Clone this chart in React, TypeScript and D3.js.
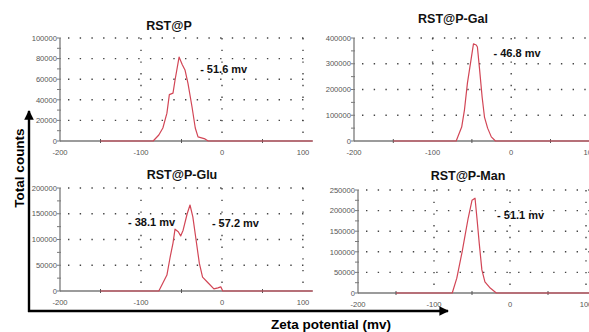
import React from 'react';
import * as d3 from 'd3';

// zeta potential (mV) vs total counts
const galX = [-150, -70, -63, -59.5, -55.7, -50.6, -48, -44.5, -43, -40.5, -37, -34, -30, -25.3, -20, 110];
const galY = [0, 0, 54000, 120000, 225000, 326000, 377000, 373000, 365000, 287000, 171000, 93000, 50000, 16000, 0, 0];

const pX = [-150, -85, -78, -73, -68, -65, -60.5, -58, -53, -49, -45.7, -42, -37, -33, -29.6, -21, -17, 112];
const pY = [0, 0, 5800, 12600, 27000, 45000, 46500, 59000, 81500, 74000, 69000, 56000, 33000, 12600, 4000, 2000, 0, 0];

const gluX = [-150, -78, -73, -68, -64, -60.5, -58, -54, -51, -48, -43, -39.5, -36, -32, -28, -24, -17, -10, -5, -1.5, 1, 112];
const gluY = [0, 0, 15500, 31000, 66000, 93000, 120000, 115000, 107000, 118000, 150000, 167000, 144000, 99000, 54000, 27000, 15500, 4000, 6000, 8000, 0, 0];

const manX = [-150, -76, -70, -63, -59, -55, -50, -46, -43.5, -40.5, -37, -33, -26, -18, 110];
const manY = [0, 0, 36000, 100000, 141000, 182000, 225000, 230000, 182000, 121000, 56000, 27000, 12000, 0, 0];

const xTicks = [-200, -100, 0, 100];
const xMinor = [-150, -50, 50];

interface Label { text: string; x: number; y: number }

interface PanelSpec {
  title: string;
  xs: number[];
  ys: number[];
  yMax: number;
  yStep: number;
  xEnd: number;
  left: number;
  pxPerMv: number;
  top: number;
  bottom: number;
  titleX: number;
  titleY: number;
  labels: Label[];
}

const panels: PanelSpec[] = [
  {
    title: 'RST@P', xs: pX, ys: pY, yMax: 100000, yStep: 20000, xEnd: 112,
    left: 60, pxPerMv: 0.81, top: 38, bottom: 141, titleX: 169, titleY: 29.5,
    labels: [{ text: '- 51.6 mv', x: -27, y: 66000 }],
  },
  {
    title: 'RST@P-Gal', xs: galX, ys: galY, yMax: 400000, yStep: 100000, xEnd: 110,
    left: 354, pxPerMv: 0.786, top: 38, bottom: 141, titleX: 453, titleY: 23,
    labels: [{ text: '- 46.8 mv', x: -22.5, y: 325000 }],
  },
  {
    title: 'RST@P-Glu', xs: gluX, ys: gluY, yMax: 200000, yStep: 50000, xEnd: 112,
    left: 60, pxPerMv: 0.81, top: 188, bottom: 291, titleX: 182, titleY: 179,
    labels: [
      { text: '- 38.1 mv', x: -116, y: 126000 },
      { text: '- 57.2 mv', x: -12.5, y: 124000 },
    ],
  },
  {
    title: 'RST@P-Man', xs: manX, ys: manY, yMax: 250000, yStep: 50000, xEnd: 110,
    left: 358, pxPerMv: 0.76, top: 190, bottom: 293, titleX: 468, titleY: 180,
    labels: [{ text: '- 51.1 mv', x: -17, y: 179000 }],
  },
];

const FONT = 'Arial, "Liberation Sans", sans-serif';
const LINE = '#d24656';
const AXIS = '#7a7a7a';

const Panel: React.FC<{ p: PanelSpec }> = ({ p }) => {
  const x = d3.scaleLinear().domain([-200, p.xEnd]).range([p.left, p.left + (p.xEnd + 200) * p.pxPerMv]);
  const y = d3.scaleLinear().domain([0, p.yMax]).range([p.bottom, p.top]);
  const majors = d3.range(0, p.yMax + 1, p.yStep);
  const minors = d3.range(0, p.yMax + 1, p.yStep / 2);
  const pts: [number, number][] = p.xs.map((v, i) => [v, p.ys[i]]);
  const line = d3.line<[number, number]>().x((d) => x(d[0])).y((d) => y(d[1]));
  const [x0, x1] = x.range();

  return (
    <g>
      {/* dotted grid */}
      {majors.filter((v) => v > 0).map((v) => (
        <line key={'h' + v} x1={x0 + 8} x2={x1} y1={y(v)} y2={y(v)} stroke="#444" strokeWidth={1.4}
          strokeDasharray="1.4,10.3" />
      ))}
      {xTicks.filter((v) => v > -200).map((v) => (
        <line key={'v' + v} x1={x(v)} x2={x(v)} y1={y(p.yMax)} y2={y(0)} stroke="#444" strokeWidth={1.4}
          strokeDasharray="1.4,10.3" />
      ))}
      {/* axes */}
      <line x1={x0} x2={x0} y1={y(p.yMax)} y2={y(0)} stroke={AXIS} strokeWidth={1.3} />
      <line x1={x0} x2={x1} y1={y(0)} y2={y(0)} stroke={AXIS} strokeWidth={1.6} />
      {minors.map((v) => (
        <line key={'yt' + v} x1={x0 - 3} x2={x0 + 1} y1={y(v)} y2={y(v)} stroke={AXIS} strokeWidth={1} />
      ))}
      {xMinor.map((v) => (
        <line key={'xt' + v} x1={x(v)} x2={x(v)} y1={y(0) - 2} y2={y(0) + 2} stroke="#555" strokeWidth={1} />
      ))}
      {majors.map((v) => (
        <text key={'yl' + v} x={x0 - 3} y={y(v) + 2.7} fontSize={7.6} fill="#555" textAnchor="end"
          fontFamily={FONT}>{v}</text>
      ))}
      {xTicks.map((v) => (
        <text key={'xl' + v} x={x(v)} y={y(0) + 14} fontSize={7.6} fill="#555" textAnchor="middle"
          fontFamily={FONT}>{v}</text>
      ))}
      <path d={line(pts) || ''} fill="none" stroke={LINE} strokeWidth={1.2} strokeLinejoin="round" />
      <text x={p.titleX} y={p.titleY} fontSize={12.5} fontWeight="bold" textAnchor="middle" fontFamily={FONT}
        fill="#111">{p.title}</text>
      {p.labels.map((l) => (
        <text key={l.text} x={x(l.x)} y={y(l.y)} fontSize={11} fontWeight="bold" fontFamily={FONT}
          fill="#111">{l.text}</text>
      ))}
    </g>
  );
};

export default function App() {
  return (
    <svg width={589} height={332} style={{ position: 'absolute', left: 0, top: 0, background: '#fff' }}>
      <defs>
        <marker id="arr" viewBox="0 0 10 10" refX="9" refY="5" markerWidth="4" markerHeight="4"
          orient="auto" markerUnits="strokeWidth">
          <path d="M0,0 L10,5 L0,10 z" fill="#000" />
        </marker>
      </defs>
      {panels.map((p) => <Panel key={p.title} p={p} />)}
      {/* overall axis arrows */}
      <line x1={29} y1={312} x2={29} y2={111} stroke="#000" strokeWidth={2.4} markerEnd="url(#arr)" />
      <line x1={28} y1={311} x2={448} y2={311} stroke="#000" strokeWidth={2.4} markerEnd="url(#arr)" />
      <text transform="translate(24,168) rotate(-90)" fontSize={13.5} fontWeight="bold" textAnchor="middle"
        fontFamily={FONT} fill="#000">Total counts</text>
      <text x={331} y={329} fontSize={13.5} fontWeight="bold" textAnchor="middle" fontFamily={FONT}
        fill="#000">Zeta potential (mv)</text>
    </svg>
  );
}
